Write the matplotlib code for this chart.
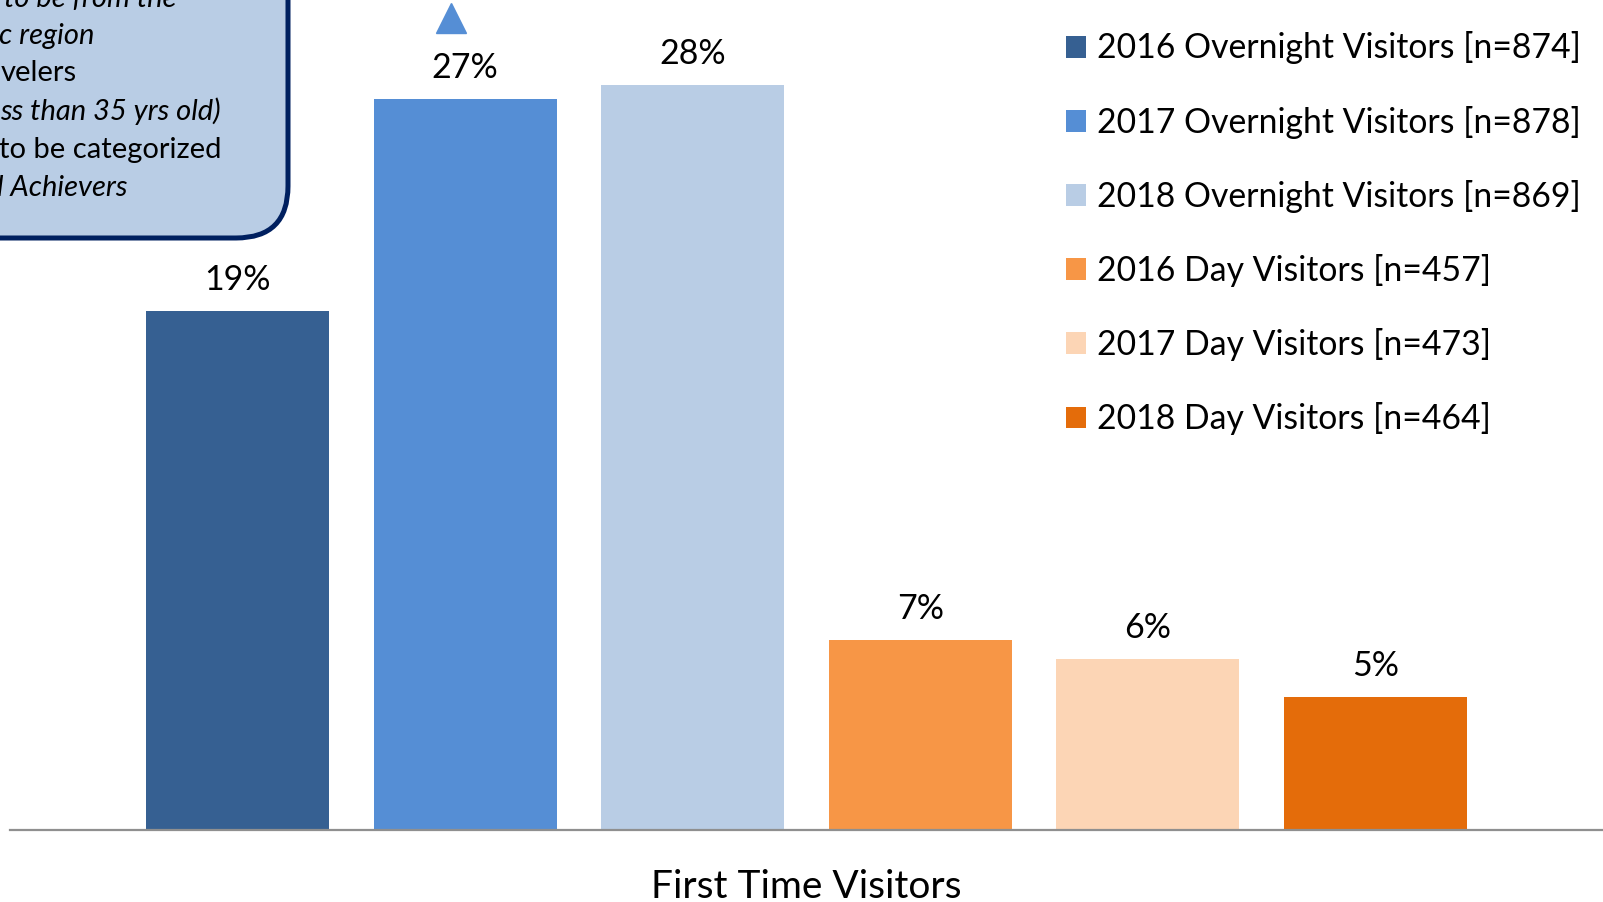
import matplotlib.pyplot as plt
from matplotlib.patches import FancyBboxPatch
from matplotlib.transforms import IdentityTransform

plt.rcParams['font.family'] = ['Lato', 'DejaVu Sans']

# data
series = ['2016 Overnight Visitors [n=874]', '2017 Overnight Visitors [n=878]',
          '2018 Overnight Visitors [n=869]', '2016 Day Visitors [n=457]',
          '2017 Day Visitors [n=473]', '2018 Day Visitors [n=464]']
values = [19.15, 26.97, 27.49, 7.01, 6.31, 4.91]
labels = ['19%', '27%', '28%', '7%', '6%', '5%']
colors = ['#366092', '#558ED5', '#B9CDE5', '#F79646', '#FCD5B5', '#E46C0A']
category = 'First Time Visitors'

# callout fragments (box is cut off at the left edge of the picture)
note_lines = ['to be from the', 'c region', 'velers', 'ss than 35 yrs old)',
              'to be categorized', 'l Achievers']
note_italic = [True, True, False, True, False, True]

W, H = 1603, 902
fig = plt.figure(figsize=(W / 100, H / 100), dpi=100)
ax = fig.add_axes([10 / W, 72 / H, 1593 / W, 813 / H])

x = list(range(len(values)))
bars = ax.bar(x, values, width=0.804, color=colors, label=series, zorder=2)
for xi, v, lab in zip(x, values, labels):
    ax.text(xi, v + 0.55, lab, ha='center', va='bottom', fontsize=24.5)

# significance marker above 2017 overnight
ax.plot([0.938], [29.95], marker='^', markersize=22, color=colors[1],
        linestyle='none', clip_on=False)

ax.set_xlim(-1, 6)
ax.set_ylim(0, 30)
ax.set_yticks([])
ax.set_xticks([])
for s in ['top', 'right', 'left']:
    ax.spines[s].set_visible(False)
ax.spines['bottom'].set_color('#8f8f8f')
ax.spines['bottom'].set_linewidth(1.6)

fig.text(806 / W, 1 - 887 / H, category, ha='center', va='center', fontsize=28)

ax.legend(handles=bars, labels=series, loc='upper left',
          bbox_to_anchor=(1052 / W, 1 - 18 / H), bbox_transform=fig.transFigure,
          frameon=False, fontsize=24.3, handlelength=0.62, handleheight=0.62,
          handletextpad=0.3, labelspacing=1.22, borderaxespad=0)

# callout box
box = FancyBboxPatch((-300, 902 - 241 + 3), 291 - 3 + 300, 600,
                     boxstyle='round,pad=0,rounding_size=52',
                     facecolor='#B9CDE5', edgecolor='#002060', linewidth=3.6,
                     transform=IdentityTransform(), zorder=5)
fig.add_artist(box)
ys = [-1, 36, 73, 111, 150, 188]
xs = [4, -1, 1, 0, -1, -3]
for line, it, yy, xx in zip(note_lines, note_italic, ys, xs):
    fig.text(xx / W, 1 - yy / H, line, ha='left', va='center', fontsize=21,
             style='italic' if it else 'normal', zorder=6)

fig.savefig('out.png', dpi=100)
